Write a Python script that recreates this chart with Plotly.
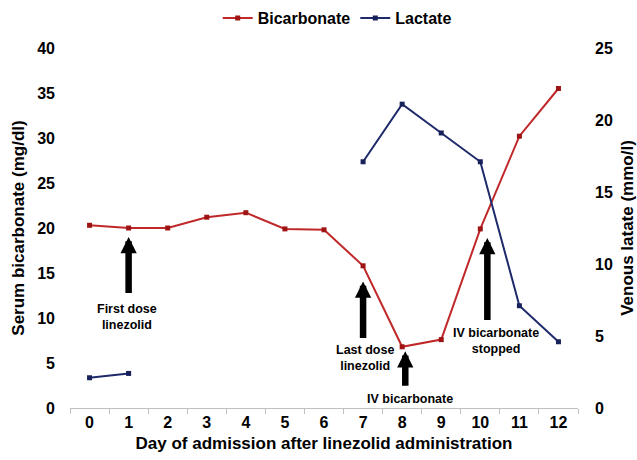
import plotly.graph_objects as go

days = [0, 1, 2, 3, 4, 5, 6, 7, 8, 9, 10, 11, 12]
bicarbonate = [20.3, 20.0, 20.0, 21.2, 21.7, 19.9, 19.8, 15.8, 6.8, 7.6, 19.9, 30.2, 35.5]
lactate = [2.1, 2.4, None, None, None, None, None, 17.1, 21.1, 19.1, 17.1, 7.1, 4.6]

left_ticks = [0, 5, 10, 15, 20, 25, 30, 35, 40]
right_ticks = [0, 5, 10, 15, 20, 25]

# annotations: (label, x_tip, y_tip, y_tail, x_text, y_text) in left-axis units
notes = [
    ("First dose<br>linezolid", 1.0, 19.0, 12.6, 0.97, 10.1),
    ("Last dose<br>linezolid", 7.0, 14.05, 7.6, 7.05, 5.6),
    ("IV bicarbonate", 8.08, 6.3, 2.3, 8.2, 0.95),
    ("IV bicarbonate<br>stopped", 10.18, 18.9, 9.6, 10.4, 7.5),
]

RED = "#C0282A"
BLUE = "#1F2A6B"
FONT = "Liberation Sans, Arial, sans-serif"

fig = go.Figure()
fig.add_trace(go.Scatter(
    x=days, y=bicarbonate, name="Bicarbonate", mode="lines+markers",
    line=dict(color=RED, width=2), marker=dict(symbol="square", size=5, color="#9E1414"),
    yaxis="y",
))
fig.add_trace(go.Scatter(
    x=days, y=lactate, name="Lactate", mode="lines+markers",
    line=dict(color=BLUE, width=2), marker=dict(symbol="square", size=5, color="#17215A"),
    connectgaps=False, yaxis="y2",
))

annotations = []
for label, xt, yt, ytail, xtx, ytx in notes:
    annotations.append(dict(
        x=xt, y=yt, xref="x", yref="y", ax=xt, ay=ytail, axref="x", ayref="y",
        text="", showarrow=True, arrowhead=2, arrowsize=0.5, arrowwidth=6.5,
        arrowcolor="black",
    ))
    annotations.append(dict(
        x=xtx, y=ytx, xref="x", yref="y", text=label, showarrow=False,
        font=dict(family=FONT, size=12.5, color="black", weight="bold"),
        align="center",
    ))

fig.update_layout(
    width=637, height=460,
    margin=dict(l=70, r=59, t=48, b=52, autoexpand=False),
    paper_bgcolor="white", plot_bgcolor="white",
    font=dict(family=FONT, color="black"),
    showlegend=True,
    legend=dict(orientation="h", x=0.526, y=1.083, xanchor="center", yanchor="middle",
                font=dict(family=FONT, size=16, color="black", weight="bold"),
                itemwidth=30, bgcolor="rgba(0,0,0,0)"),
    xaxis=dict(
        type="category", range=[-0.5, 12.5], tickson="boundaries", automargin=False,
        ticks="outside", ticklen=5, tickcolor="#BFBFBF",
        showline=True, linecolor="#BFBFBF", linewidth=1, showgrid=False, zeroline=False,
        tickfont=dict(family=FONT, size=16, color="black", weight="bold"),
        title=dict(text="Day of admission after linezolid administration",
                   font=dict(family=FONT, size=17, color="black", weight="bold"), standoff=6),
    ),
    yaxis=dict(
        range=[0, 40], tickvals=left_ticks, showgrid=False, zeroline=False, showline=False,
        ticklabelstandoff=14, automargin=False,
        tickfont=dict(family=FONT, size=16, color="black", weight="bold"),
        title=dict(text="Serum bicarbonate (mg/dl)",
                   font=dict(family=FONT, size=17, color="black", weight="bold"), standoff=8),
    ),
    yaxis2=dict(
        range=[0, 25], tickvals=right_ticks, overlaying="y", side="right",
        showgrid=False, zeroline=False, showline=False, ticklabelstandoff=16,
        automargin=False,
        tickfont=dict(family=FONT, size=16, color="black", weight="bold"),
        title=dict(text="Venous latate (mmo/l)",
                   font=dict(family=FONT, size=17, color="black", weight="bold"), standoff=10),
    ),
    annotations=annotations,
)

fig.write_html("out.html", post_script="document.body.style.margin='0';",
               config={"displayModeBar": False})
